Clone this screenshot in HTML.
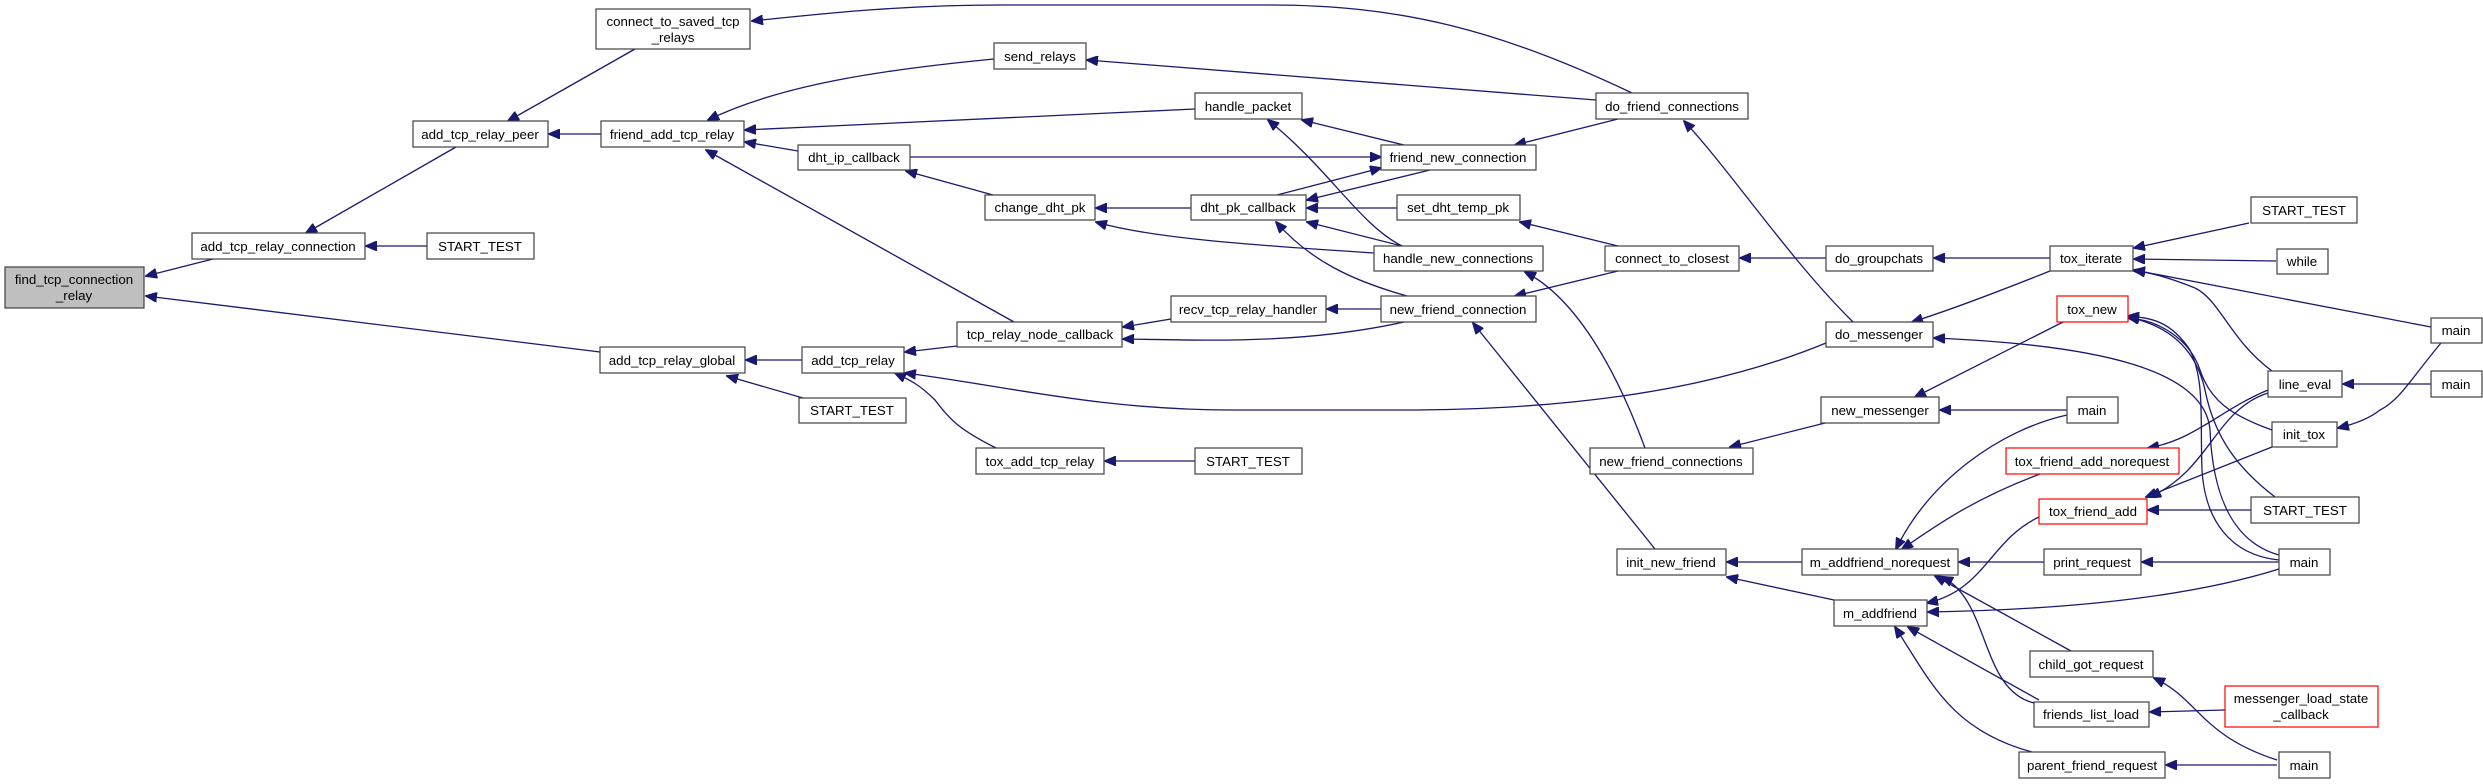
<!DOCTYPE html>
<html><head><meta charset="utf-8"><style>
html,body{margin:0;padding:0;background:#fff;}
svg{display:block;}
text{font-family:"Liberation Sans",Arial,sans-serif;font-size:13.3px;fill:#000;}
</style></head><body>
<svg width="2483" height="784" viewBox="0 0 2483 784" xmlns="http://www.w3.org/2000/svg">
<defs>
<marker id="a" markerWidth="12" markerHeight="10" refX="11" refY="5" orient="auto" markerUnits="userSpaceOnUse">
<path d="M0,0 L12,5 L0,10 Z" fill="#191970" stroke="#191970"/>
</marker>
</defs>
<g fill="none" stroke="#191970" stroke-width="1.3" marker-end="url(#a)">
<path d="M213,259 L146,276"/>
<path d="M600,352 L146,296"/>
<path d="M427,246 L366,246"/>
<path d="M456,147 L306,233"/>
<path d="M635,49 L508,121"/>
<path d="M601,134 L549,134"/>
<path d="M1632,93 C1500,30 1400,5 1270,5 L1000,5 C900,5 820,14 752,21"/>
<path d="M994,59 C880,70 780,85 708,120"/>
<path d="M1195,109 L745,130"/>
<path d="M798,151 L745,142"/>
<path d="M1014,322 L706,150"/>
<path d="M1596,100 L1087,60"/>
<path d="M1404,145 L1302,120"/>
<path d="M1402,246 C1360,225 1330,170 1268,120"/>
<path d="M1618,119 L1515,145"/>
<path d="M910,157 L1381,157"/>
<path d="M1277,195 L1381,168"/>
<path d="M1430,170 L1307,200"/>
<path d="M993,195 L906,171"/>
<path d="M1191,208 L1096,208"/>
<path d="M1374,253 C1250,245 1150,238 1096,222"/>
<path d="M1397,208 L1307,208"/>
<path d="M1402,246 L1307,222"/>
<path d="M1407,296 C1350,280 1310,260 1276,222"/>
<path d="M1618,246 L1520,222"/>
<path d="M1618,271 L1515,296"/>
<path d="M1645,448 C1620,380 1580,300 1525,272"/>
<path d="M1381,309 L1327,309"/>
<path d="M1171,319 L1123,327"/>
<path d="M1404,322 C1300,345 1200,340 1123,339"/>
<path d="M957,346 L905,352"/>
<path d="M1826,343 C1700,395 1550,410 1400,410 L1230,410 C1100,410 1000,385 905,373"/>
<path d="M802,360 L746,360"/>
<path d="M803,398 L727,376"/>
<path d="M996,448 C960,430 950,420 935,400 C920,385 910,380 895,373"/>
<path d="M1195,461 L1105,461"/>
<path d="M1655,549 L1473,323"/>
<path d="M1853,322 C1790,260 1730,170 1684,121"/>
<path d="M1826,258 L1740,258"/>
<path d="M2050,258 L1934,258"/>
<path d="M2050,271 C1990,295 1950,310 1912,322"/>
<path d="M2249,223 L2134,248"/>
<path d="M2276,261 L2134,259"/>
<path d="M2431,327 L2134,270"/>
<path d="M2272,371 C2230,340 2220,300 2195,288 C2170,278 2150,272 2134,271"/>
<path d="M1825,423 L1730,447"/>
<path d="M2067,410 L1940,410"/>
<path d="M2063,322 L1915,397"/>
<path d="M2272,430 C2230,415 2210,400 2200,370 C2190,340 2160,320 2128,318"/>
<path d="M2275,497 C2240,470 2215,440 2205,390 C2195,345 2165,325 2128,317"/>
<path d="M2279,560 C2230,555 2205,520 2202,470 C2200,420 2205,380 2190,350 C2170,320 2150,318 2128,316"/>
<path d="M2279,555 C2225,540 2212,480 2210,430 C2205,370 2100,345 1934,338"/>
<path d="M2431,384 L2343,384"/>
<path d="M2441,343 C2410,380 2400,400 2380,410 C2370,418 2355,424 2338,428"/>
<path d="M2268,390 C2220,410 2195,440 2148,448"/>
<path d="M2268,393 C2215,410 2210,470 2150,497"/>
<path d="M2272,447 L2146,497"/>
<path d="M2251,510 L2148,510"/>
<path d="M2067,415 C2000,430 1930,480 1896,549"/>
<path d="M2040,474 C1970,500 1930,530 1902,549"/>
<path d="M2039,517 C1990,540 1985,590 1927,603"/>
<path d="M1802,562 L1727,562"/>
<path d="M1834,600 L1727,577"/>
<path d="M2044,562 L1959,562"/>
<path d="M2279,562 L2142,562"/>
<path d="M2279,569 C2180,600 2050,610 1928,612"/>
<path d="M2071,651 L1935,576"/>
<path d="M2034,703 C1980,690 1990,600 1942,577"/>
<path d="M2039,700 L1908,627"/>
<path d="M2032,752 C1950,730 1930,680 1895,627"/>
<path d="M2225,710 L2150,712"/>
<path d="M2277,760 C2200,735 2200,700 2154,678"/>
<path d="M2277,765 L2166,765"/>
</g>
<g stroke="#404040" stroke-width="1.2" fill="#fff">
<rect x="5" y="267" width="139" height="41" fill="#bfbfbf"/>
<rect x="192" y="233" width="173" height="26"/>
<rect x="427" y="233" width="107" height="26"/>
<rect x="413" y="121" width="135" height="26"/>
<rect x="596" y="9" width="154" height="40"/>
<rect x="601" y="121" width="143" height="26"/>
<rect x="600" y="347" width="145" height="26"/>
<rect x="994" y="43" width="92" height="26"/>
<rect x="1195" y="93" width="107" height="26"/>
<rect x="798" y="145" width="112" height="25"/>
<rect x="1381" y="145" width="155" height="25"/>
<rect x="985" y="195" width="110" height="25"/>
<rect x="1191" y="195" width="115" height="25"/>
<rect x="1397" y="195" width="123" height="25"/>
<rect x="1374" y="246" width="169" height="25"/>
<rect x="1171" y="296" width="155" height="26"/>
<rect x="1381" y="296" width="155" height="26"/>
<rect x="957" y="322" width="165" height="25"/>
<rect x="802" y="347" width="102" height="26"/>
<rect x="799" y="398" width="107" height="25"/>
<rect x="976" y="448" width="128" height="26"/>
<rect x="1195" y="448" width="107" height="26"/>
<rect x="1596" y="93" width="152" height="26"/>
<rect x="1605" y="246" width="134" height="25"/>
<rect x="1826" y="246" width="107" height="25"/>
<rect x="2050" y="246" width="83" height="25"/>
<rect x="2251" y="197" width="106" height="26"/>
<rect x="2277" y="249" width="51" height="25"/>
<rect x="2431" y="318" width="51" height="25"/>
<rect x="2057" y="296" width="71" height="26" stroke="#ff0000"/>
<rect x="1826" y="322" width="107" height="25"/>
<rect x="2268" y="371" width="74" height="26"/>
<rect x="2431" y="371" width="51" height="26"/>
<rect x="1821" y="397" width="118" height="26"/>
<rect x="2067" y="397" width="51" height="26"/>
<rect x="2272" y="422" width="65" height="25"/>
<rect x="1590" y="448" width="163" height="26"/>
<rect x="2006" y="448" width="173" height="26" stroke="#ff0000"/>
<rect x="1617" y="549" width="109" height="26"/>
<rect x="1802" y="549" width="156" height="26"/>
<rect x="1834" y="600" width="93" height="26"/>
<rect x="2039" y="499" width="108" height="25" stroke="#ff0000"/>
<rect x="2251" y="497" width="108" height="26"/>
<rect x="2044" y="549" width="97" height="26"/>
<rect x="2279" y="549" width="51" height="26"/>
<rect x="2030" y="651" width="123" height="26"/>
<rect x="2034" y="702" width="115" height="25"/>
<rect x="2225" y="686" width="153" height="41" stroke="#ff0000"/>
<rect x="2019" y="752" width="146" height="26"/>
<rect x="2279" y="752" width="51" height="26"/>
</g>
<g text-anchor="middle">
<text x="74" y="284">find_tcp_connection</text><text x="74" y="300">_relay</text>
<text x="278" y="251">add_tcp_relay_connection</text>
<text x="480" y="251">START_TEST</text>
<text x="480" y="139">add_tcp_relay_peer</text>
<text x="673" y="26">connect_to_saved_tcp</text><text x="673" y="42">_relays</text>
<text x="672" y="139">friend_add_tcp_relay</text>
<text x="672" y="365">add_tcp_relay_global</text>
<text x="1040" y="61">send_relays</text>
<text x="1248" y="111">handle_packet</text>
<text x="854" y="162">dht_ip_callback</text>
<text x="1458" y="162">friend_new_connection</text>
<text x="1040" y="212">change_dht_pk</text>
<text x="1248" y="212">dht_pk_callback</text>
<text x="1458" y="212">set_dht_temp_pk</text>
<text x="1458" y="263">handle_new_connections</text>
<text x="1248" y="314">recv_tcp_relay_handler</text>
<text x="1458" y="314">new_friend_connection</text>
<text x="1040" y="339">tcp_relay_node_callback</text>
<text x="853" y="365">add_tcp_relay</text>
<text x="852" y="415">START_TEST</text>
<text x="1040" y="466">tox_add_tcp_relay</text>
<text x="1248" y="466">START_TEST</text>
<text x="1672" y="111">do_friend_connections</text>
<text x="1672" y="263">connect_to_closest</text>
<text x="1879" y="263">do_groupchats</text>
<text x="2091" y="263">tox_iterate</text>
<text x="2304" y="215">START_TEST</text>
<text x="2302" y="266">while</text>
<text x="2456" y="335">main</text>
<text x="2092" y="314">tox_new</text>
<text x="1879" y="339">do_messenger</text>
<text x="2305" y="389">line_eval</text>
<text x="2456" y="389">main</text>
<text x="1880" y="415">new_messenger</text>
<text x="2092" y="415">main</text>
<text x="2304" y="439">init_tox</text>
<text x="1671" y="466">new_friend_connections</text>
<text x="2092" y="466">tox_friend_add_norequest</text>
<text x="1671" y="567">init_new_friend</text>
<text x="1880" y="567">m_addfriend_norequest</text>
<text x="1880" y="618">m_addfriend</text>
<text x="2093" y="516">tox_friend_add</text>
<text x="2305" y="515">START_TEST</text>
<text x="2092" y="567">print_request</text>
<text x="2304" y="567">main</text>
<text x="2091" y="669">child_got_request</text>
<text x="2091" y="719">friends_list_load</text>
<text x="2301" y="703">messenger_load_state</text><text x="2301" y="719">_callback</text>
<text x="2092" y="770">parent_friend_request</text>
<text x="2304" y="770">main</text>
</g>
</svg>
</body></html>
